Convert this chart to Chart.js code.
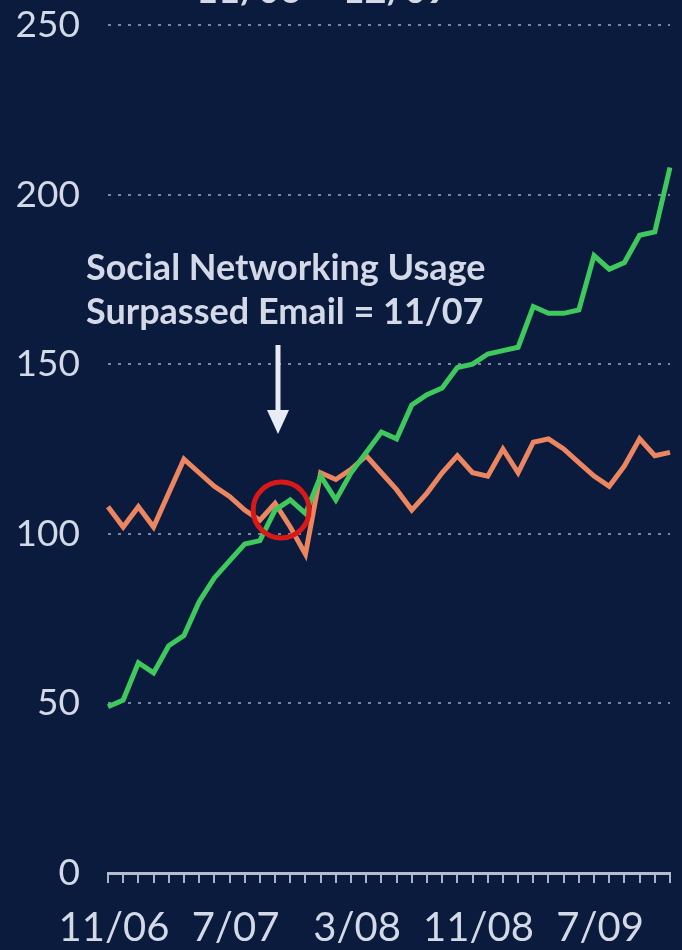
<!DOCTYPE html>
<html>
<head>
<meta charset="utf-8">
<script src="https://cdn.jsdelivr.net/npm/chart.js@4"></script>
<style>
  html, body { margin: 0; padding: 0; background: #0b1b3d; }
  #wrap { width: 682px; height: 950px; }
</style>
</head>
<body>
<div id="wrap"><canvas id="chart" width="682" height="950"></canvas></div>
<script>
// Monthly index, 11/06 through 12/09
const months = ['11/06','12/06','1/07','2/07','3/07','4/07','5/07','6/07','7/07','8/07','9/07','10/07',
  '11/07','12/07','1/08','2/08','3/08','4/08','5/08','6/08','7/08','8/08','9/08','10/08',
  '11/08','12/08','1/09','2/09','3/09','4/09','5/09','6/09','7/09','8/09','9/09','10/09','11/09','12/09'];
const shownLabels = ['11/06', '7/07', '3/08', '11/08', '7/09'];

const socialNetworking = [49, 51, 62, 59, 67, 70, 80, 87, 92, 97, 98, 107,
  110, 106, 117, 110, 118, 124, 130, 128, 138, 141, 143, 149,
  150, 153, 154, 155, 167, 165, 165, 166, 182, 178, 180, 188, 189, 208];
const email = [108, 102, 108, 102, 112, 122, 118, 114, 111, 107, 104, 109,
  102, 94, 118, 116, 119, 123, 118, 113, 107, 112, 118, 123,
  118, 117, 125, 118, 127, 128, 125, 121, 117, 114, 120, 128, 123, 124];

const yTicks = [0, 50, 100, 150, 200, 250];
const annotationLines = ['Social Networking Usage', 'Surpassed Email = 11/07'];
const crossIndex = 11.4;   // where the circle sits
const crossValue = 107;

const textColor = '#d3d9e6';

// draws the annotation text, arrow and red circle
const notes = {
  id: 'notes',
  afterDatasetsDraw(chart) {
    const ctx = chart.ctx;
    const x = chart.scales.x, y = chart.scales.y;
    ctx.save();

    // cut-off title at the very top
    ctx.fillStyle = textColor;
    ctx.font = 'bold 38px Lato';
    ctx.textBaseline = 'alphabetic';
    ctx.fillText('11/06 \u2013 12/09', 196, 3);

    // annotation
    ctx.font = 'bold 36px Lato';
    ctx.textBaseline = 'middle';
    ctx.fillText(annotationLines[0], 86, 268);
    ctx.fillText(annotationLines[1], 86, 312);

    // arrow
    const ax = 278;
    ctx.strokeStyle = '#e8ecf5';
    ctx.fillStyle = '#e8ecf5';
    ctx.lineWidth = 5;
    ctx.beginPath();
    ctx.moveTo(ax, 345);
    ctx.lineTo(ax, 415);
    ctx.stroke();
    ctx.beginPath();
    ctx.moveTo(ax - 11, 410);
    ctx.lineTo(ax + 11, 410);
    ctx.lineTo(ax, 434);
    ctx.closePath();
    ctx.fill();

    // red circle at the crossing
    ctx.strokeStyle = '#d91818';
    ctx.lineWidth = 5;
    ctx.beginPath();
    ctx.arc(x.getPixelForValue(crossIndex), y.getPixelForValue(crossValue), 28, 0, Math.PI * 2);
    ctx.stroke();
    ctx.restore();
  }
};

new Chart(document.getElementById('chart'), {
  type: 'line',
  data: {
    labels: months,
    datasets: [
      { label: 'Social Networking', data: socialNetworking, borderColor: '#3fc85c', borderWidth: 5, pointRadius: 0, tension: 0, order: 1 },
      { label: 'Email', data: email, borderColor: '#ec8660', borderWidth: 5, pointRadius: 0, tension: 0, order: 2 }
    ]
  },
  options: {
    responsive: false,
    animation: false,
    layout: { padding: { top: 25, right: 12, left: 0, bottom: 0 } },
    plugins: { legend: { display: false }, tooltip: { enabled: false } },
    scales: {
      x: {
        offset: false,
        grid: { drawOnChartArea: false, drawTicks: true, tickLength: 10, color: '#aab3c8', lineWidth: 2 },
        border: { display: true, color: '#b4bccf', width: 3 },
        ticks: {
          autoSkip: false, maxRotation: 0, padding: 21, labelOffset: 6,
          color: textColor, font: { family: 'Lato', size: 40 },
          callback: function(v, i) { return shownLabels.includes(months[i]) ? months[i] : ''; }
        },
        afterFit(scale) { scale.height = 77; scale.paddingLeft = 0; scale.paddingRight = 0; }
      },
      y: {
        min: 0, max: 250,
        afterBuildTicks(scale) { scale.ticks = yTicks.map(v => ({ value: v })); },
        grid: { drawTicks: false, color: c => c.tick.value === 0 ? 'rgba(0,0,0,0)' : 'rgba(160,170,195,0.75)', lineWidth: 2 },
        border: { display: false, dash: [3, 7] },
        ticks: { padding: 28, color: textColor, font: { family: 'Lato', size: 37 } },
        afterFit(scale) { scale.width = 108; scale.paddingTop = 0; scale.paddingBottom = 0; }
      }
    }
  },
  plugins: [notes]
});
</script>
</body>
</html>
